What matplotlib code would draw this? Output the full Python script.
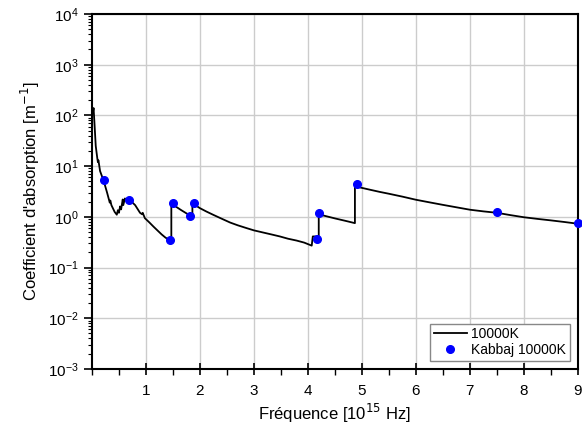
import matplotlib
matplotlib.use("Agg")
import matplotlib.pyplot as plt
from matplotlib.ticker import LogLocator, NullFormatter, MultipleLocator

plt.rcParams['font.family'] = ['Liberation Sans', 'DejaVu Sans']

# calculated curve, 10000 K
freq = [0.02, 0.03, 0.05, 0.07, 0.10, 0.11, 0.12, 0.15, 0.22, 0.28, 0.33, 0.34,
        0.36, 0.42, 0.46, 0.48, 0.50, 0.52, 0.54, 0.57, 0.58, 0.61, 0.64, 0.67,
        0.73, 0.80, 0.89, 0.93, 0.94, 0.98, 1.06, 1.14, 1.22, 1.29, 1.36, 1.43,
        1.47, 1.47, 1.55, 1.65, 1.75, 1.86, 1.86, 1.92, 2.00, 2.12, 2.25, 2.40,
        2.56, 2.70, 2.86, 3.00, 3.17, 3.32, 3.48, 3.63, 3.79, 3.93, 4.07, 4.09,
        4.20, 4.20, 4.35, 4.50, 4.70, 4.87, 4.87, 5.00, 5.15, 5.33, 5.50, 5.75,
        6.00, 6.25, 6.50, 6.75, 7.00, 7.25, 7.50, 7.75, 8.00, 8.25, 8.50, 8.75,
        9.00]
alpha = [120, 140, 60, 25, 14, 12, 13, 8, 5, 3, 1.9, 2.1,
         1.7, 1.25, 1.1, 1.35, 1.2, 1.6, 1.4, 2.2, 1.7, 2.3, 2.1, 2.2,
         2.0, 1.7, 1.2, 1.12, 1.2, 0.94, 0.78, 0.64, 0.53, 0.45, 0.39, 0.35,
         0.34, 1.86, 1.6, 1.36, 1.17, 1.0, 1.9, 1.68, 1.48, 1.27, 1.09, 0.92,
         0.77, 0.68, 0.6, 0.54, 0.49, 0.45, 0.41, 0.37, 0.34, 0.31, 0.27, 0.41,
         0.41, 1.12, 1.02, 0.93, 0.83, 0.75, 4.0, 3.72, 3.42, 3.1, 2.85, 2.5,
         2.17, 1.93, 1.72, 1.54, 1.38, 1.28, 1.2, 1.08, 0.98, 0.91, 0.85, 0.79,
         0.73]

# Kabbaj points
kab_freq = [0.22, 0.69, 1.44, 1.50, 1.81, 1.89, 4.17, 4.21, 4.91, 7.50, 9.00]
kab_alpha = [5.4, 2.1, 0.35, 1.85, 1.05, 1.88, 0.37, 1.18, 4.45, 1.27, 0.76]

fig = plt.figure(figsize=(5.82, 4.25), dpi=100)
ax = fig.add_axes([0.158, 0.132, 0.835, 0.835])

ax.plot(freq, alpha, color='black', lw=1.3, label='10000K', zorder=3)
ax.plot(kab_freq, kab_alpha, 'o', color='#0000ff', ms=5.5, mec='#0000ff',
        label='Kabbaj 10000K', zorder=4, clip_on=False)

ax.set_yscale('log')
ax.set_xlim(0, 9)
ax.set_ylim(1e-3, 1e4)

ax.set_xticks(range(1, 10))
ax.xaxis.set_minor_locator(MultipleLocator(0.5))
ax.yaxis.set_major_locator(LogLocator(base=10, numticks=20))
ax.yaxis.set_minor_locator(LogLocator(base=10, subs=range(2, 10), numticks=20))
ax.yaxis.set_minor_formatter(NullFormatter())

ax.tick_params(axis='x', which='major', direction='inout', length=8, width=1.2,
               labelsize=11, pad=7)
ax.tick_params(axis='x', which='minor', direction='out', length=4, width=1.0)
ax.tick_params(axis='y', which='major', direction='out', length=6, width=1.2,
               labelsize=11)
ax.tick_params(axis='y', which='minor', direction='out', length=3, width=0.8)

ax.grid(True, which='major', color='#cccccc', lw=1.0)
ax.set_axisbelow(True)
for s in ax.spines.values():
    s.set_linewidth(1.5)

ax.set_xlabel('Fréquence [10$^{15}$ Hz]', fontsize=12, labelpad=3)
ax.set_ylabel("Coefficient d'absorption [m$^{-1}$]", fontsize=12, labelpad=4)

ax.legend(loc='lower right', fontsize=10, frameon=True, fancybox=False,
          edgecolor='#888888', framealpha=1, borderpad=0.25, labelspacing=0.15,
          handlelength=2.4, handletextpad=0.3, borderaxespad=0.6)

fig.savefig('out.png', dpi=100)
